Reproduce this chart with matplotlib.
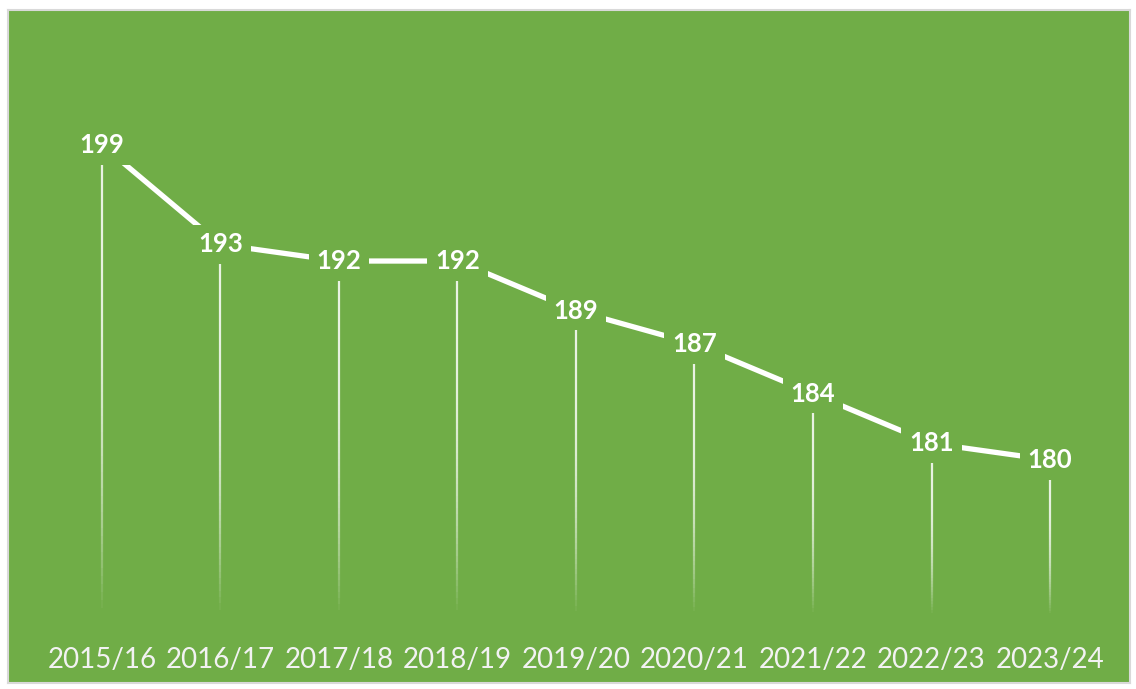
import numpy as np
import matplotlib.pyplot as plt
from matplotlib.collections import LineCollection

# data
years = ["2015/16", "2016/17", "2017/18", "2018/19", "2019/20",
         "2020/21", "2021/22", "2022/23", "2023/24"]
values = [199, 193, 192, 192, 189, 187, 184, 181, 180]

green = "#70AD47"
x = np.arange(len(years))

fig = plt.figure(figsize=(11.36, 6.89), dpi=100, facecolor="white")
ax = fig.add_axes([8 / 1136, 6 / 689, 1122 / 1136, 673 / 689])
ax.set_facecolor(green)
for s in ax.spines.values():
    s.set_color("#D9D9D9")
    s.set_linewidth(1.5)

ax.set_xlim(-0.793, 8.675)
ax.set_ylim(166.55, 207.14)
ax.set_xticks([])
ax.set_yticks([])

# drop lines fading towards the bottom
bottom = 170.6
for xi, v in zip(x, values):
    ys = np.linspace(v, bottom, 60)
    segs = [[(xi, ys[k]), (xi, ys[k + 1])] for k in range(len(ys) - 1)]
    t = np.linspace(0, 1, len(segs))
    alphas = 0.85 * (1 - t ** 3)
    cols = [(1, 1, 1, a) for a in alphas]
    lc = LineCollection(segs, colors=cols, linewidths=1.6, zorder=1)
    ax.add_collection(lc)

ax.plot(x, values, color="white", linewidth=3.8, zorder=2, solid_capstyle="butt")

for xi, v in zip(x, values):
    ax.text(xi, v, str(v), ha="center", va="center", color="white",
            fontsize=18.5, fontweight="bold", family="Lato", zorder=3,
            bbox=dict(boxstyle="square,pad=0.3", fc=green, ec="none"))

for xi, lab in zip(x, years):
    ax.text(xi, 0.034, lab, ha="center", va="center", color="#F2F2F2",
            fontsize=20, family="Lato", transform=ax.get_xaxis_transform())

fig.savefig("out.png", dpi=100, facecolor="white")
